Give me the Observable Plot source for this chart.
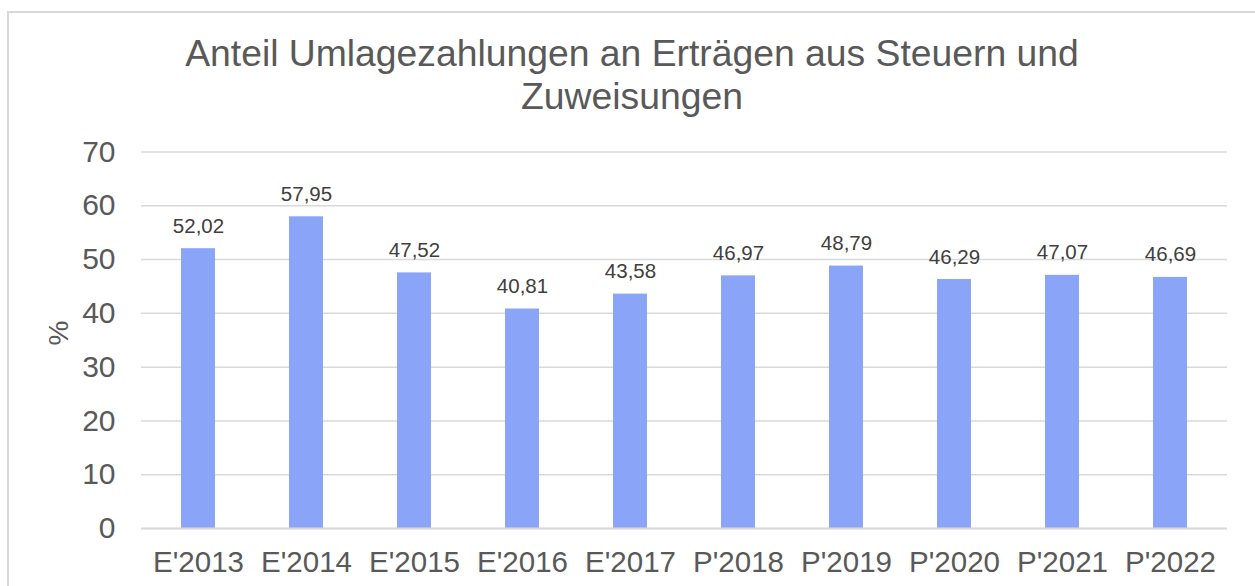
<!DOCTYPE html>
<html><head><meta charset="utf-8">
<script src="https://cdn.jsdelivr.net/npm/d3@7"></script>
<script src="https://cdn.jsdelivr.net/npm/@observablehq/plot@0.6"></script>
<style>
body{margin:0;background:#fff;}
#wrap{position:relative;width:1255px;height:586px;overflow:hidden;font-family:"Liberation Sans",Arial,sans-serif;}
#frame{position:absolute;left:7px;top:11px;width:1260px;height:600px;border:2px solid #d9d9d9;box-sizing:border-box;}
#title{position:absolute;left:0;top:0;width:1264px;text-align:center;color:#595959;font-size:37.3px;line-height:43px;padding-top:32px;}
#chart{position:absolute;left:0;top:0;}
</style></head>
<body><div id="wrap"><div id="frame"></div><div id="chart"></div><div id="title">Anteil Umlagezahlungen an Erträgen aus Steuern und<br>Zuweisungen</div></div>
<script>
const categories = ["E'2013","E'2014","E'2015","E'2016","E'2017","P'2018","P'2019","P'2020","P'2021","P'2022"];
const values = [52.02,57.95,47.52,40.81,43.58,46.97,48.79,46.29,47.07,46.69];
const yTicks = [0,10,20,30,40,50,60,70];
const yLabel = "%";
const data = categories.map((c,i)=>({cat:c, v:values[i]}));
const fmt = v => v.toFixed(2).replace(".", ",");
const chart = Plot.plot({
  width:1255, height:586,
  marginTop:151.5, marginBottom:58, marginLeft:141, marginRight:28,
  style:{fontFamily:'"Liberation Sans",Arial,sans-serif', color:"#595959", background:"transparent"},
  x:{domain:categories, paddingInner:0.687, paddingOuter:0.3435, label:null},
  y:{domain:[0,70], ticks:yTicks, label:null},
  marks:[
    Plot.gridY(yTicks,{stroke:"#d9d9d9", strokeOpacity:1, strokeWidth:1.5}),
    Plot.barY(data,{x:"cat", y:"v", fill:"#8aa4f8"}),
    Plot.text(data,{x:"cat", y:"v", text:d=>fmt(d.v), dy:-16, lineAnchor:"bottom", fontSize:20.5, fill:"#404040"}),
    Plot.axisX({tickSize:0, tickPadding:23, fontSize:29.5, fill:"#595959"}),
    Plot.axisY({ticks:yTicks, tickSize:0, tickPadding:26, fontSize:30, fill:"#595959"}),
    Plot.ruleY([0],{stroke:"#d9d9d9", strokeWidth:2})
  ]
});
document.getElementById("chart").appendChild(chart);
const svg = d3.select(chart);
svg.append("text").attr("transform","translate(68,333) rotate(-90)").attr("text-anchor","middle")
  .attr("fill","#595959").attr("font-size",28).text(yLabel);
</script></body></html>
